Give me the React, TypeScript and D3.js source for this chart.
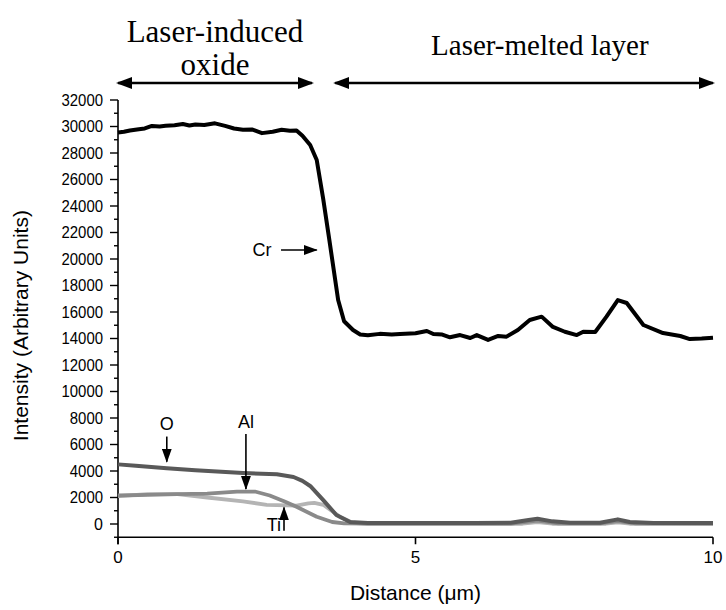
import React from "react";
import * as d3 from "d3";

// Cr profile, [distance (µm), intensity]
const crData: [number, number][] = [
  [0, 29550], [0.1, 29600], [0.2, 29700], [0.35, 29800], [0.45, 29850], [0.57, 30040],
  [0.7, 30000], [0.8, 30050], [0.95, 30100], [1.09, 30190], [1.2, 30080], [1.3, 30150],
  [1.45, 30120], [1.63, 30240], [1.8, 30050], [1.95, 29850], [2.1, 29750], [2.25, 29780],
  [2.42, 29500], [2.6, 29600], [2.75, 29750], [2.89, 29680], [3.0, 29700], [3.1, 29300],
  [3.23, 28600], [3.34, 27470], [3.45, 24500], [3.55, 21500], [3.7, 16900], [3.8, 15300],
  [3.95, 14640], [4.07, 14300], [4.2, 14250], [4.4, 14350], [4.6, 14300], [4.74, 14340],
  [5.0, 14400], [5.19, 14570], [5.3, 14340], [5.45, 14300], [5.58, 14090], [5.75, 14260],
  [5.92, 14040], [6.03, 14260], [6.22, 13890], [6.39, 14190], [6.53, 14140], [6.72, 14640],
  [6.92, 15400], [7.12, 15650], [7.31, 14870], [7.51, 14510], [7.71, 14260], [7.82, 14510],
  [8.02, 14490], [8.21, 15650], [8.4, 16900], [8.55, 16680], [8.83, 15020], [9.16, 14410],
  [9.45, 14190], [9.61, 13960], [9.81, 14000], [10, 14060],
];

const tiData: [number, number][] = [
  [0, 2100], [0.5, 2250], [1.0, 2250], [1.5, 2000], [2.1, 1700], [2.5, 1450], [3.0, 1380],
  [3.2, 1550], [3.3, 1600], [3.45, 1450], [3.73, 550], [3.95, 80], [4.2, 20], [6.8, 20],
  [7.05, 150], [7.3, 20], [8.2, 20], [8.4, 120], [8.6, 20], [10, 20],
];

const alData: [number, number][] = [
  [0, 2150], [0.5, 2200], [1.0, 2250], [1.5, 2300], [2.0, 2450], [2.3, 2450], [2.55, 2150],
  [2.8, 1700], [3.0, 1300], [3.34, 550], [3.6, 150], [3.8, 50], [4.2, 30], [6.6, 30],
  [7.05, 250], [7.4, 40], [8.1, 40], [8.4, 220], [8.7, 40], [10, 30],
];

const oData: [number, number][] = [
  [0, 4500], [0.3, 4400], [0.82, 4200], [1.3, 4050], [2.1, 3850], [2.67, 3750], [2.95, 3550],
  [3.1, 3250], [3.23, 2870], [3.45, 1800], [3.67, 680], [3.9, 150], [4.2, 80], [5, 80],
  [6, 80], [6.6, 100], [6.9, 300], [7.05, 400], [7.3, 200], [7.6, 100], [8.1, 100],
  [8.4, 350], [8.6, 150], [9, 80], [10, 80],
];

const xTicks = [0, 5, 10];
const yMajorTicks = d3.range(0, 32001, 2000);
const yMinorTicks = d3.range(-1000, 32000, 2000);

const W = 726;
const H = 610;

export default function App() {
  const x = d3.scaleLinear().domain([0, 10]).range([118, 713]);
  const y = d3.scaleLinear().domain([-1000, 32000]).range([537.25, 100]);

  const line = d3
    .line<[number, number]>()
    .x((d) => x(d[0]))
    .y((d) => y(d[1]))
    .curve(d3.curveLinear);

  const sans = "'Liberation Sans', Arial, sans-serif";
  const serif = "'Liberation Serif', 'Times New Roman', serif";
  const x0 = x(0);
  const yBase = y(-1000);

  return (
    <svg width={W} height={H}
      style={{ position: "absolute", left: 0, top: 0, display: "block", background: "#fff" }}>
      <defs>
        <marker id="headBig" markerUnits="userSpaceOnUse" markerWidth="16" markerHeight="12"
          refX="14" refY="6" orient="auto-start-reverse">
          <path d="M0,0 L16,6 L0,12 Z" fill="#000" />
        </marker>
        <marker id="headSmall" markerUnits="userSpaceOnUse" markerWidth="14" markerHeight="10"
          refX="13" refY="5" orient="auto">
          <path d="M0,0 L14,5 L0,10 Z" fill="#000" />
        </marker>
      </defs>

      {/* region annotations */}
      <text x={(x(0) + x(3.26)) / 2} y={42} textAnchor="middle" fontFamily={serif} fontSize={31}>
        Laser-induced
      </text>
      <text x={(x(0) + x(3.26)) / 2} y={75} textAnchor="middle" fontFamily={serif} fontSize={31}>
        oxide
      </text>
      <text x={x(7.09)} y={55} textAnchor="middle" fontFamily={serif} fontSize={29}>
        Laser-melted layer
      </text>
      <line x1={x(0)} x2={x(3.26)} y1={83} y2={83} stroke="#000" strokeWidth={2.5}
        markerStart="url(#headBig)" markerEnd="url(#headBig)" />
      <line x1={x(3.65)} x2={x(10)} y1={83} y2={83} stroke="#000" strokeWidth={2.5}
        markerStart="url(#headBig)" markerEnd="url(#headBig)" />

      {/* y axis */}
      <line x1={x0} x2={x0} y1={y(32000)} y2={yBase + 7} stroke="#000" strokeWidth={1.6} />
      {yMajorTicks.map((t) => (
        <g key={"M" + t}>
          <line x1={x0 - 8} x2={x0} y1={y(t)} y2={y(t)} stroke="#000" strokeWidth={1.4} />
          <text x={x0 - 15} y={y(t)} dy="0.36em" textAnchor="end" fontFamily={sans} fontSize={16}
            textLength={t === 0 ? undefined : String(t).length * 8.3} lengthAdjust="spacingAndGlyphs">
            {t}
          </text>
        </g>
      ))}
      {yMinorTicks.map((t) => (
        <line key={"m" + t} x1={x0 - 4} x2={x0} y1={y(t)} y2={y(t)} stroke="#000" strokeWidth={1.4} />
      ))}
      <text transform={`translate(28,${(y(32000) + yBase) / 2 + 7}) rotate(-90)`} textAnchor="middle"
        fontFamily={sans} fontSize={21}>
        Intensity (Arbitrary Units)
      </text>

      {/* x axis */}
      <line x1={x0} x2={x(10)} y1={yBase} y2={yBase} stroke="#000" strokeWidth={1.6} />
      {xTicks.map((t) => (
        <g key={"x" + t}>
          <line x1={x(t)} x2={x(t)} y1={yBase} y2={yBase + 7} stroke="#000" strokeWidth={1.6} />
          <text x={x(t)} y={yBase + 26} textAnchor="middle" fontFamily={sans} fontSize={17}>
            {t}
          </text>
        </g>
      ))}
      <text x={x(5)} y={yBase + 63} textAnchor="middle" fontFamily={sans} fontSize={21}>
        Distance (μm)
      </text>

      {/* series */}
      <path d={line(tiData) || ""} fill="none" stroke="#b4b4b4" strokeWidth={3.8} strokeLinejoin="round" />
      <path d={line(alData) || ""} fill="none" stroke="#8a8a8a" strokeWidth={3.8} strokeLinejoin="round" />
      <path d={line(oData) || ""} fill="none" stroke="#595959" strokeWidth={4} strokeLinejoin="round" />
      <path d={line(crData) || ""} fill="none" stroke="#000" strokeWidth={4} strokeLinejoin="round" />

      {/* element labels */}
      <text x={x(2.58)} y={y(20680)} dy="0.35em" textAnchor="end" fontFamily={sans} fontSize={18}>Cr</text>
      <line x1={x(2.74)} x2={x(3.34)} y1={y(20680)} y2={y(20680)} stroke="#000" strokeWidth={1.6}
        markerEnd="url(#headSmall)" />

      <text x={x(0.82)} y={y(7600)} dy="0.35em" textAnchor="middle" fontFamily={sans} fontSize={18}>O</text>
      <line x1={x(0.82)} x2={x(0.82)} y1={y(6600)} y2={y(4700)} stroke="#000" strokeWidth={1.6}
        markerEnd="url(#headSmall)" />

      <text x={x(2.15)} y={y(7750)} dy="0.35em" textAnchor="middle" fontFamily={sans} fontSize={18}>Al</text>
      <line x1={x(2.15)} x2={x(2.15)} y1={y(6800)} y2={y(2650)} stroke="#000" strokeWidth={1.6}
        markerEnd="url(#headSmall)" />

      <text x={x(2.74)} y={y(-50)} dy="0.35em" textAnchor="end" fontFamily={sans} fontSize={18}>Ti</text>
      <line x1={x(2.79)} x2={x(2.79)} y1={y(-500)} y2={y(1250)} stroke="#000" strokeWidth={1.6}
        markerEnd="url(#headSmall)" />
    </svg>
  );
}
